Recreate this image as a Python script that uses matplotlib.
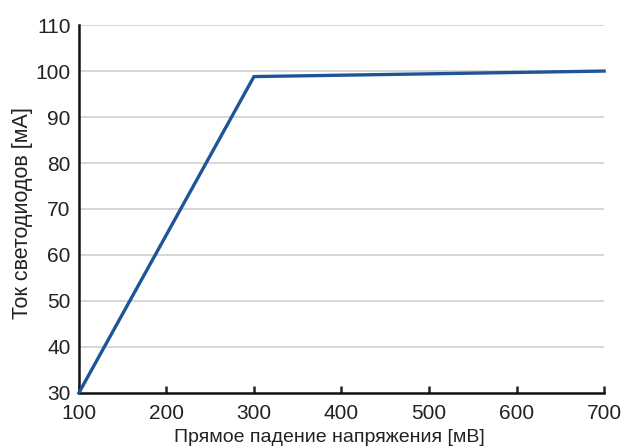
import matplotlib.pyplot as plt

plt.rcParams['font.family'] = ['Liberation Sans', 'DejaVu Sans']

voltage = [100, 300, 700]
current = [30, 98.8, 100]
x_ticks = [100, 200, 300, 400, 500, 600, 700]
y_ticks = [30, 40, 50, 60, 70, 80, 90, 100, 110]

fig = plt.figure(figsize=(6.26, 4.48), dpi=100)
ax = fig.add_axes([0.126, 0.123, 0.839, 0.821])

for y in y_ticks[1:]:
    ax.axhline(y, color='#d3d3d3', lw=1.3, zorder=1)

ax.plot(voltage, current, color='#1f5597', lw=2.4, solid_joinstyle='miter', zorder=3, clip_on=False)

ax.set_xlim(100, 700)
ax.set_ylim(30, 110)
ax.set_xticks(x_ticks)
ax.set_yticks(y_ticks)
ax.tick_params(axis='x', direction='in', length=5, width=1.8, labelsize=15, colors='#222222', pad=8)
ax.tick_params(axis='y', length=0, labelsize=15, colors='#222222', pad=6)

for s in ['top', 'right']:
    ax.spines[s].set_visible(False)
for s in ['left', 'bottom']:
    ax.spines[s].set_linewidth(1.8)
    ax.spines[s].set_color('#111111')

ax.set_xlabel('Прямое падение напряжения [мВ]', fontsize=14, color='#222222')
ax.xaxis.set_label_coords(0.477, -0.097)
ax.set_ylabel('Ток светодиодов [мА]', fontsize=15.5, color='#222222')
ax.yaxis.set_label_coords(-0.088, 0.49)

fig.savefig('out.png', dpi=100)
